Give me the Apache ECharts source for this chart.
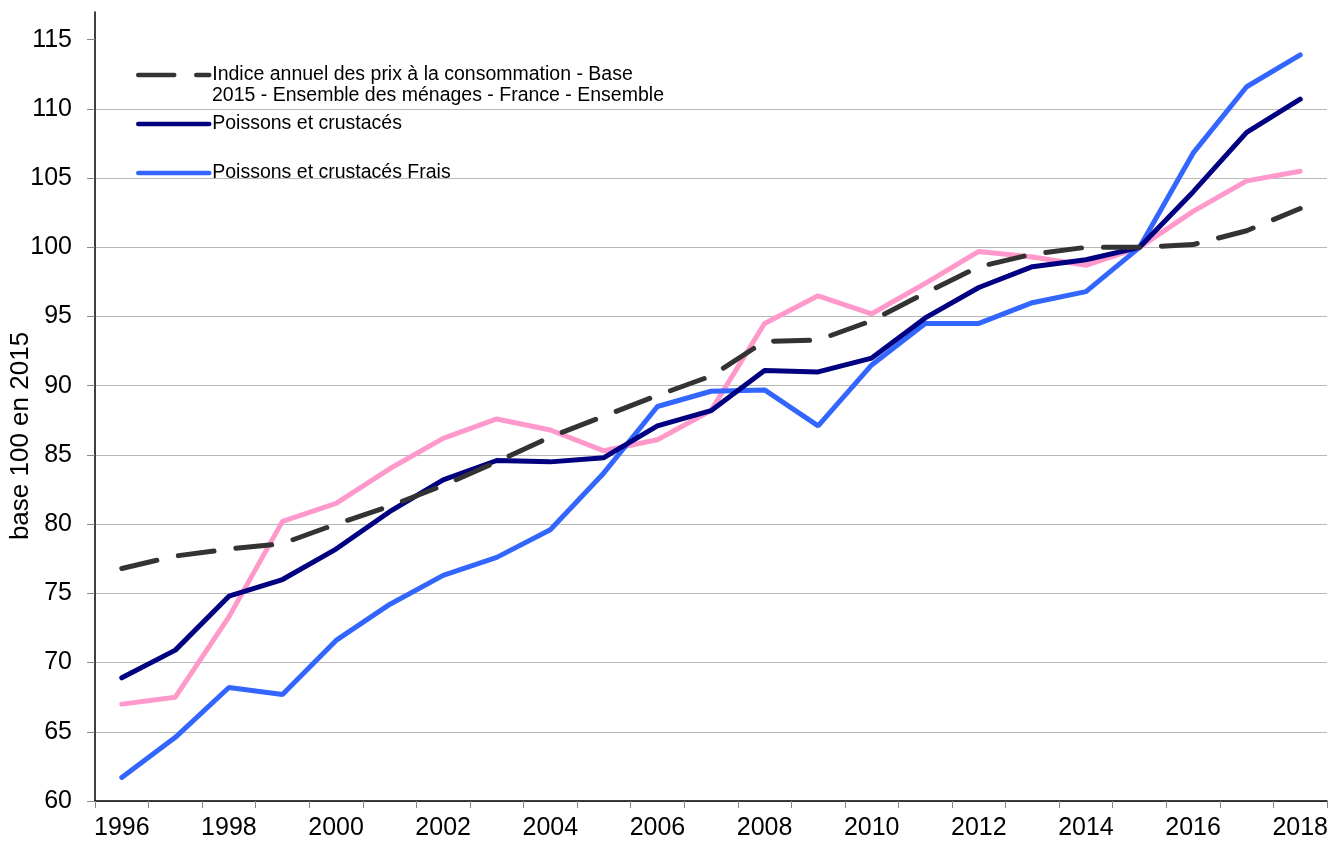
<!DOCTYPE html>
<html>
<head>
<meta charset="utf-8">
<script src="https://cdn.jsdelivr.net/npm/echarts@6/dist/echarts.min.js"></script>
<style>html,body{margin:0;padding:0;background:#fff}#c{width:1343px;height:843px}</style>
</head>
<body>
<div id="c"></div>
<script>
var years = ['1996','1997','1998','1999','2000','2001','2002','2003','2004','2005','2006','2007','2008','2009','2010','2011','2012','2013','2014','2015','2016','2017','2018'];
var cpi = [76.8,77.7,78.2,78.6,80.0,81.3,82.8,84.5,86.3,87.8,89.3,90.7,93.2,93.3,94.7,96.7,98.6,99.5,100.0,100.0,100.2,101.2,102.8];
var poissons = [68.9,70.9,74.8,76.0,78.2,80.9,83.2,84.6,84.5,84.8,87.1,88.2,91.1,91.0,92.0,94.9,97.1,98.6,99.1,100.0,104.0,108.3,110.7];
var frais = [61.7,64.6,68.2,67.7,71.6,74.2,76.3,77.6,79.6,83.7,88.5,89.6,89.7,87.1,91.5,94.5,94.5,96.0,96.8,100.0,106.8,111.6,113.9];
var autre = [67.0,67.5,73.3,80.2,81.5,84.0,86.2,87.6,86.8,85.3,86.1,88.2,94.5,96.5,95.2,97.4,99.7,99.3,98.7,100.0,102.6,104.8,105.5];
var yTicks = [60,65,70,75,80,85,90,95,100,105,110,115];
var names = [
  'Indice annuel des prix à la consommation - Base',
  'Poissons et crustacés',
  'Poissons et crustacés Frais',
  'Autre'
];
var name0Line2 = '2015 - Ensemble des ménages - France - Ensemble';
var yTitle = 'base 100 en 2015';

var chart = echarts.init(document.getElementById('c'));
var font = 'Liberation Sans, Arial, sans-serif';
function leg(name, top) {
  return {
    data: [name], orient: 'vertical', left: 136, top: top,
    itemWidth: 71, itemHeight: 14, itemGap: 0, padding: 0,
    selectedMode: false,
    itemStyle: {opacity: 0},
    lineStyle: {width: 4.5, cap: 'round'},
    textStyle: {fontFamily: font, fontSize: 19.5, color: '#000', lineHeight: 22, padding: [0,0,0,-2]}
  };
}
chart.setOption({
  animation: false,
  grid: {left: 95, right: 16, top: 12, bottom: 42, containLabel: false},
  legend: [leg(names[0], 64), leg(names[1], 113), leg(names[2], 162)],
  graphic: [{
    type: 'text', x: 21, y: 436, rotation: Math.PI/2,
    style: {text: yTitle, font: '26px ' + font, fill: '#000', textAlign: 'center', textVerticalAlign: 'middle'}
  }, {
    type: 'text', x: 212, y: 96,
    style: {text: name0Line2, font: '19.5px ' + font, fill: '#000', textAlign: 'left', textVerticalAlign: 'middle'}
  }],
  xAxis: {
    type: 'category', data: years, boundaryGap: true,
    axisLine: {lineStyle: {color: '#000', width: 1.5}},
    axisTick: {show: true, interval: 0, length: 7, lineStyle: {color: '#888'}},
    axisLabel: {interval: 1, fontFamily: font, fontSize: 25, color: '#000', margin: 15},
    splitLine: {show: false}
  },
  yAxis: {
    type: 'value', min: 60, max: 117, interval: 5,
    axisLine: {show: true, lineStyle: {color: '#000', width: 1.5}},
    axisTick: {show: true, length: 8, lineStyle: {color: '#888'}, customValues: yTicks},
    axisLabel: {fontFamily: font, fontSize: 25, color: '#000', margin: 23, customValues: yTicks},
    splitLine: {show: true, showMaxLine: false, lineStyle: {color: '#b8b8b8', width: 1.2}}
  },
  series: [
    {name: names[0], type: 'line', data: cpi, symbol: 'none', z: 4,
     lineStyle: {color: '#333333', width: 5, type: [36, 22], cap: 'round'}, itemStyle: {color: '#333333'}},
    {name: names[1], type: 'line', data: poissons, symbol: 'none', z: 3,
     lineStyle: {color: '#000080', width: 5, cap: 'round'}, itemStyle: {color: '#000080'}},
    {name: names[2], type: 'line', data: frais, symbol: 'none', z: 2,
     lineStyle: {color: '#3366ff', width: 5, cap: 'round'}, itemStyle: {color: '#3366ff'}},
    {name: names[3], type: 'line', data: autre, symbol: 'none', z: 1,
     lineStyle: {color: '#ff99cc', width: 5, cap: 'round'}, itemStyle: {color: '#ff99cc'}}
  ]
});
</script>
</body>
</html>
